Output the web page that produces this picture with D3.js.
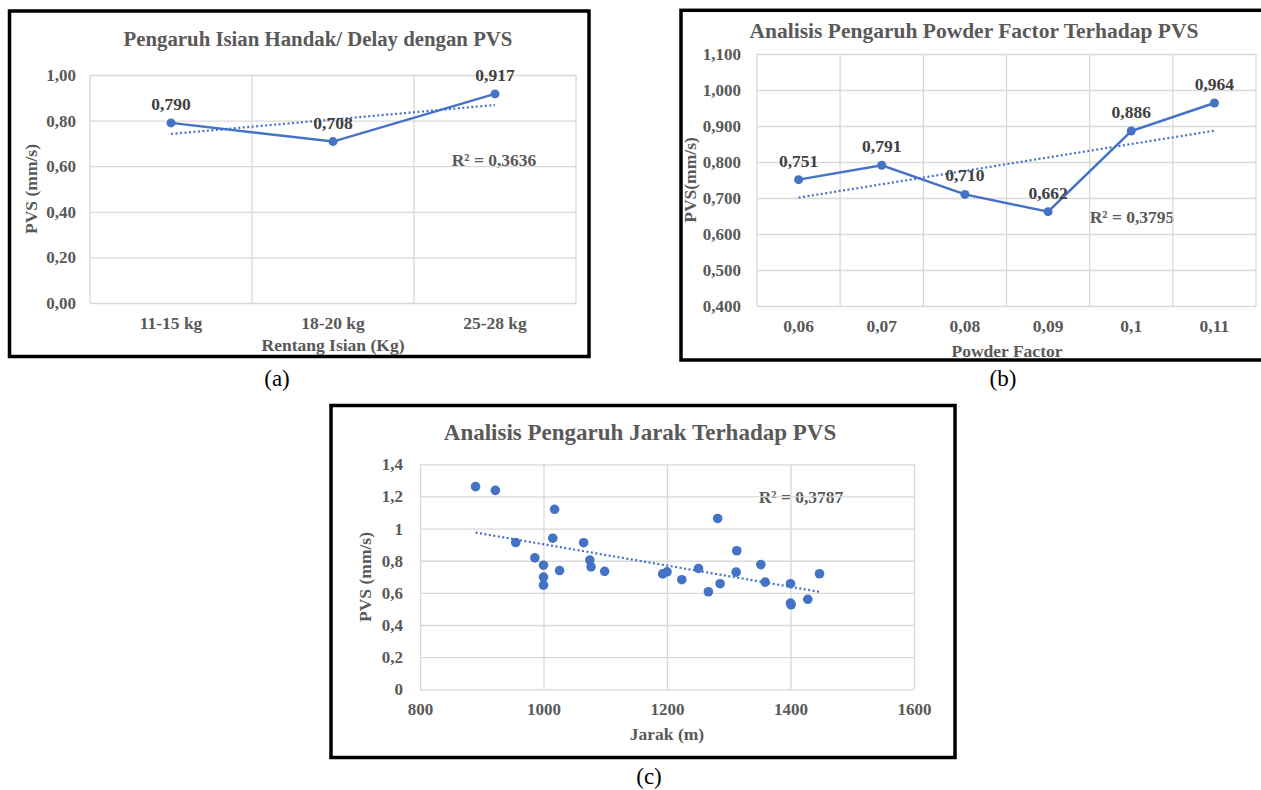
<!DOCTYPE html>
<html>
<head>
<meta charset="utf-8">
<script src="https://cdn.jsdelivr.net/npm/d3@7"></script>
<style>
body { margin: 0; background: #fff; }
svg text { font-family: "Liberation Serif", "Times New Roman", serif; }
</style>
</head>
<body>
<div id="fig"></div>
<script>
// (a) Pengaruh isian handak
const isianCategories = ["11-15 kg", "18-20 kg", "25-28 kg"];
const isianPvs = [0.790, 0.708, 0.917];
const isianTicks = [0, 0.2, 0.4, 0.6, 0.8, 1.0];

// (b) Powder factor
const pfCategories = ["0,06", "0,07", "0,08", "0,09", "0,1", "0,11"];
const pfPvs = [0.751, 0.791, 0.710, 0.662, 0.886, 0.964];
const pfTicks = [0.4, 0.5, 0.6, 0.7, 0.8, 0.9, 1.0, 1.1];

// (c) Jarak
const jarak = [890, 922, 1018, 1282, 955, 1015, 1065, 1313, 986, 1000, 1000, 1000, 1026, 1075, 1077,
    1099, 1193, 1200, 1224, 1251, 1267, 1286, 1312, 1352, 1359, 1400, 1400, 1401, 1428, 1447];
const jarakPvs = [1.261, 1.238, 1.120, 1.063, 0.913, 0.940, 0.912, 0.862, 0.818, 0.772, 0.698, 0.648, 0.739, 0.804, 0.762,
    0.734, 0.718, 0.731, 0.682, 0.752, 0.607, 0.657, 0.729, 0.776, 0.667, 0.657, 0.536, 0.526, 0.560, 0.719];
const jarakXTicks = [800, 1000, 1200, 1400, 1600];
const jarakYTicks = [0, 0.2, 0.4, 0.6, 0.8, 1.0, 1.2, 1.4];

const blue = "#4472C4";
const grid = "#d9d9d9";
const textGray = "#595959";
const labelGray = "#404040";

const locale = d3.formatLocale({ decimal: ",", thousands: ".", grouping: [3], currency: ["", ""] });

const svg = d3.select("#fig")
    .append("svg")
    .attr("width", 1261)
    .attr("height", 790);

function regression(xs, ys) {
    const mx = d3.mean(xs), my = d3.mean(ys);
    let sxy = 0, sxx = 0;
    xs.forEach((x, i) => { sxy += (x - mx) * (ys[i] - my); sxx += (x - mx) * (x - mx); });
    const slope = sxy / sxx;
    return x => my + slope * (x - mx);
}

function frame(g, c) {
    g.append("rect")
        .attr("x", c.box[0]).attr("y", c.box[1])
        .attr("width", c.box[2]).attr("height", c.box[3])
        .attr("fill", "#fff")
        .attr("stroke", "#000")
        .attr("stroke-width", 3.5);

    g.append("text")
        .attr("x", c.title[0]).attr("y", c.title[1])
        .attr("text-anchor", "middle")
        .attr("dominant-baseline", "central")
        .attr("font-size", c.titleSize + "px")
        .attr("font-weight", "bold")
        .attr("fill", textGray)
        .text(c.titleText);

    g.append("text")
        .attr("x", c.xTitle[0]).attr("y", c.xTitle[1])
        .attr("text-anchor", "middle")
        .attr("dominant-baseline", "central")
        .attr("font-size", "17.5px")
        .attr("font-weight", "bold")
        .attr("fill", textGray)
        .text(c.xTitleText);

    g.append("text")
        .attr("transform", `translate(${c.yTitle[0]},${c.yTitle[1]}) rotate(-90)`)
        .attr("text-anchor", "middle")
        .attr("dominant-baseline", "central")
        .attr("font-size", "17.5px")
        .attr("font-weight", "bold")
        .attr("fill", textGray)
        .text(c.yTitleText);

    g.append("text")
        .attr("x", c.r2[0]).attr("y", c.r2[1])
        .attr("text-anchor", "middle")
        .attr("dominant-baseline", "central")
        .attr("font-size", "17.5px")
        .attr("font-weight", "bold")
        .attr("fill", textGray)
        .text(c.r2Text);
}

function yAxis(g, c, y) {
    g.append("g")
        .attr("transform", `translate(${c.plot.left},0)`)
        .call(d3.axisLeft(y)
            .tickValues(c.yTicks)
            .tickSize(-(c.plot.right - c.plot.left))
            .tickPadding(c.plot.left - c.yLabelRight)
            .tickFormat(locale.format(c.yFormat)))
        .call(a => a.select(".domain").remove())
        .call(a => a.selectAll("line").attr("stroke", grid).attr("stroke-width", 1.3))
        .call(a => a.selectAll("text")
            .attr("font-size", "17px")
            .attr("font-weight", "bold")
            .attr("fill", textGray));
}

function lineChart(g, c) {
    frame(g, c);
    const p = c.plot;
    const x = d3.scaleBand().domain(c.categories).range([p.left, p.right]);
    const y = d3.scaleLinear().domain(c.yDomain).range([p.bottom, p.top]);
    const cx = d => x(d) + x.bandwidth() / 2;

    yAxis(g, c, y);

    // vertical gridlines at category edges
    const edges = c.categories.map(d => x(d)).concat([p.right]);
    g.append("g").selectAll("line")
        .data(edges)
        .enter()
        .append("line")
        .attr("x1", d => d).attr("x2", d => d)
        .attr("y1", p.top).attr("y2", p.bottom)
        .attr("stroke", grid)
        .attr("stroke-width", 1.3);

    g.append("g")
        .attr("transform", `translate(0,${p.bottom})`)
        .call(d3.axisBottom(x).tickSize(0))
        .call(a => a.select(".domain").remove())
        .call(a => a.selectAll("text")
            .attr("y", c.xLabelY - p.bottom)
            .attr("dy", "0.35em")
            .attr("font-size", "17.5px")
            .attr("font-weight", "bold")
            .attr("fill", textGray));

    const pts = c.categories.map((d, i) => ({ cat: d, v: c.values[i], i: i }));

    // trendline
    const idx = pts.map(d => d.i);
    const trend = regression(idx, c.values);
    const xi = d3.scaleLinear().domain([0, pts.length - 1]).range([cx(c.categories[0]), cx(c.categories[pts.length - 1])]);
    g.append("line")
        .attr("x1", xi(0)).attr("y1", y(trend(0)))
        .attr("x2", xi(pts.length - 1)).attr("y2", y(trend(pts.length - 1)))
        .attr("stroke", blue)
        .attr("stroke-width", 2.2)
        .attr("stroke-dasharray", "2,2.5");

    g.append("path")
        .datum(pts)
        .attr("fill", "none")
        .attr("stroke", blue)
        .attr("stroke-width", 2.5)
        .attr("d", d3.line().x(d => cx(d.cat)).y(d => y(d.v)));

    g.append("g").selectAll("circle")
        .data(pts)
        .enter()
        .append("circle")
        .attr("cx", d => cx(d.cat))
        .attr("cy", d => y(d.v))
        .attr("r", 4.5)
        .attr("fill", blue);

    g.append("g").selectAll("text")
        .data(pts)
        .enter()
        .append("text")
        .attr("x", d => cx(d.cat))
        .attr("y", d => y(d.v) - 19)
        .attr("text-anchor", "middle")
        .attr("dominant-baseline", "central")
        .attr("font-size", "17.5px")
        .attr("font-weight", "bold")
        .attr("fill", labelGray)
        .text(d => locale.format(".3f")(d.v));
}

function scatterChart(g, c) {
    frame(g, c);
    const p = c.plot;
    const x = d3.scaleLinear().domain(c.xDomain).range([p.left, p.right]);
    const y = d3.scaleLinear().domain(c.yDomain).range([p.bottom, p.top]);

    yAxis(g, c, y);

    g.append("g")
        .attr("transform", `translate(0,${p.bottom})`)
        .call(d3.axisBottom(x)
            .tickValues(c.xTicks)
            .tickSize(-(p.bottom - p.top))
            .tickPadding(c.xLabelY - p.bottom)
            .tickFormat(d3.format("d")))
        .call(a => a.select(".domain").remove())
        .call(a => a.selectAll("line").attr("stroke", grid).attr("stroke-width", 1.3))
        .call(a => a.selectAll("text")
            .attr("y", c.xLabelY - p.bottom)
            .attr("dy", "0.35em")
            .attr("font-size", "17px")
            .attr("font-weight", "bold")
            .attr("fill", textGray));

    const pts = c.xs.map((d, i) => ({ x: d, v: c.values[i] }));
    const trend = regression(c.xs, c.values);
    const [x0, x1] = d3.extent(c.xs);
    g.append("line")
        .attr("x1", x(x0)).attr("y1", y(trend(x0)))
        .attr("x2", x(x1)).attr("y2", y(trend(x1)))
        .attr("stroke", blue)
        .attr("stroke-width", 2.2)
        .attr("stroke-dasharray", "2,2.5");

    g.append("g").selectAll("circle")
        .data(pts)
        .enter()
        .append("circle")
        .attr("cx", d => x(d.x))
        .attr("cy", d => y(d.v))
        .attr("r", 4.8)
        .attr("fill", blue);
}

lineChart(svg.append("g"), {
    box: [9.5, 11, 579.5, 345.5],
    plot: { left: 90, right: 576, top: 75, bottom: 303 },
    titleText: "Pengaruh Isian Handak/ Delay dengan PVS", title: [318, 38], titleSize: 20.8,
    xTitleText: "Rentang Isian (Kg)", xTitle: [333, 345],
    yTitleText: "PVS (mm/s)", yTitle: [31, 189],
    r2Text: "R² = 0,3636", r2: [494, 160],
    categories: isianCategories, values: isianPvs,
    yDomain: [0, 1], yTicks: isianTicks, yFormat: ".2f",
    yLabelRight: 76, xLabelY: 323
});

lineChart(svg.append("g"), {
    box: [681, 10.3, 592, 349.7],
    plot: { left: 757, right: 1256, top: 54, bottom: 306 },
    titleText: "Analisis Pengaruh Powder Factor Terhadap PVS", title: [974, 31], titleSize: 21.5,
    xTitleText: "Powder Factor", xTitle: [1007, 351],
    yTitleText: "PVS(mm/s)", yTitle: [690, 180],
    r2Text: "R² = 0,3795", r2: [1132, 217],
    categories: pfCategories, values: pfPvs,
    yDomain: [0.4, 1.1], yTicks: pfTicks, yFormat: ".3f",
    yLabelRight: 741, xLabelY: 326
});

scatterChart(svg.append("g"), {
    box: [331, 405.5, 624, 352],
    plot: { left: 420, right: 914, top: 464.3, bottom: 689.3 },
    titleText: "Analisis Pengaruh Jarak Terhadap PVS", title: [640, 432], titleSize: 23,
    xTitleText: "Jarak (m)", xTitle: [667, 734],
    yTitleText: "PVS (mm/s)", yTitle: [365, 577],
    r2Text: "R² = 0,3787", r2: [801, 497],
    xs: jarak, values: jarakPvs,
    xDomain: [800, 1600], yDomain: [0, 1.4],
    xTicks: jarakXTicks, yTicks: jarakYTicks, yFormat: ".1~f",
    yLabelRight: 403, xLabelY: 709
});

// captions
const captions = [["(a)", 277, 378], ["(b)", 1003, 378], ["(c)", 649, 776]];
svg.append("g").selectAll("text")
    .data(captions)
    .enter()
    .append("text")
    .attr("x", d => d[1])
    .attr("y", d => d[2])
    .attr("text-anchor", "middle")
    .attr("dominant-baseline", "central")
    .attr("font-size", "23px")
    .attr("fill", "#000")
    .text(d => d[0]);
</script>
</body>
</html>
